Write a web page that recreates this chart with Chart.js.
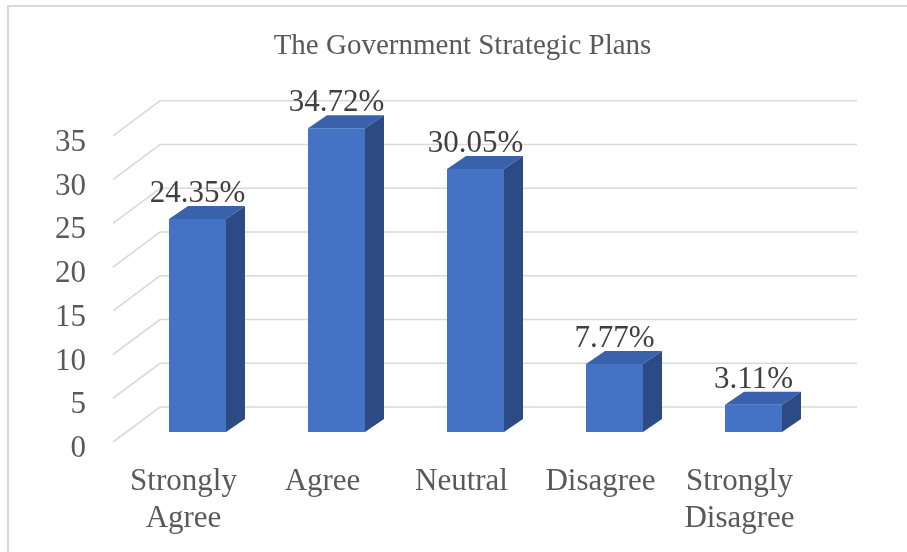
<!DOCTYPE html>
<html lang="en">
<head>
  <meta charset="UTF-8">
  <title>The Government Strategic Plans</title>
  <script src="https://cdn.jsdelivr.net/npm/chart.js"></script>
  <style>
    body { margin: 0; background: #fff; }
    canvas { display: block; }
  </style>
</head>
<body>
  <canvas id="chartPlans" width="907" height="552"></canvas>
<script>
// chart data
const categories = [['Strongly', 'Agree'], 'Agree', 'Neutral', 'Disagree', ['Strongly', 'Disagree']];
const percentages = [24.35, 34.72, 30.05, 7.77, 3.11];
const yTicks = [0, 5, 10, 15, 20, 25, 30, 35];

const textColor = '#595959';
const fontName = "'Liberation Serif', 'Times New Roman', serif";

// fake 3D: back wall grid, bar top and side faces, value labels
const bar3d = {
  id: 'bar3d',
  beforeDraw(chart) {
    const ctx = chart.ctx;
    ctx.save();
    ctx.fillStyle = '#d9d9d9';
    ctx.fillRect(7, 5, chart.width, 2);
    ctx.fillRect(7, 5, 2, chart.height);
    ctx.restore();
  },
  beforeDatasetsDraw(chart) {
    const ctx = chart.ctx;
    const area = chart.chartArea;
    const y = chart.scales.y;
    ctx.save();
    ctx.strokeStyle = '#d9d9d9';
    ctx.lineWidth = 1.6;
    yTicks.forEach(v => {
      const py = y.getPixelForValue(v);
      ctx.beginPath();
      ctx.moveTo(area.left - 15, py + 10);
      ctx.lineTo(area.left + 32, py - 25);
      ctx.lineTo(area.right + 34, py - 25);
      ctx.stroke();
    });
    ctx.restore();
  },
  afterDatasetsDraw(chart) {
    const ctx = chart.ctx;
    const dx = 19, dy = 13;
    const meta = chart.getDatasetMeta(0);
    ctx.save();
    meta.data.forEach((bar, i) => {
      const left = bar.x - bar.width / 2;
      const right = bar.x + bar.width / 2;
      // top face
      ctx.fillStyle = '#3a62ac';
      ctx.beginPath();
      ctx.moveTo(left, bar.y);
      ctx.lineTo(left + dx, bar.y - dy);
      ctx.lineTo(right + dx, bar.y - dy);
      ctx.lineTo(right, bar.y);
      ctx.closePath();
      ctx.fill();
      // side face
      ctx.fillStyle = '#2c4b85';
      ctx.beginPath();
      ctx.moveTo(right, bar.y);
      ctx.lineTo(right + dx, bar.y - dy);
      ctx.lineTo(right + dx, bar.base - dy);
      ctx.lineTo(right, bar.base);
      ctx.closePath();
      ctx.fill();
      // value label
      ctx.fillStyle = '#404040';
      ctx.font = '31px ' + fontName;
      ctx.textAlign = 'center';
      ctx.textBaseline = 'middle';
      ctx.fillText(percentages[i].toFixed(2) + '%', bar.x, bar.y - 25);
    });
    ctx.restore();
  }
};

const config = {
  type: 'bar',
  data: {
    labels: categories,
    datasets: [{
      label: 'The Government Strategic Plans',
      data: percentages,
      backgroundColor: '#4472c4',
      borderWidth: 0,
      categoryPercentage: 1,
      barPercentage: 0.41
    }]
  },
  options: {
    responsive: false,
    animation: false,
    layout: { padding: { left: 18, right: 0, top: 0, bottom: 0 } },
    plugins: {
      legend: { display: false },
      tooltip: { enabled: false },
      title: {
        display: true,
        text: 'The Government Strategic Plans',
        color: textColor,
        font: { family: fontName, size: 29, weight: 'normal' },
        padding: { top: 29, bottom: 62 }
      }
    },
    scales: {
      x: {
        grid: { display: false, drawTicks: false },
        border: { display: false },
        ticks: {
          color: textColor,
          font: { family: fontName, size: 31, lineHeight: 1.2 },
          padding: 31,
          labelOffset: -14,
          maxRotation: 0,
          autoSkip: false
        },
        afterFit: s => { s.height = 120; }
      },
      y: {
        min: 0,
        max: 35,
        grid: { display: false, drawTicks: false },
        border: { display: false },
        ticks: {
          stepSize: 5,
          color: textColor,
          font: { family: fontName, size: 31 },
          padding: 42,
          labelOffset: 17
        },
        afterFit: s => { s.width = 110; }
      },
      // empty right axis, only keeps room for the 3D wall
      yRight: {
        position: 'right',
        grid: { display: false, drawTicks: false },
        border: { display: false },
        ticks: { display: false },
        afterFit: s => { s.width = 84; }
      }
    }
  },
  plugins: [bar3d]
};

new Chart(document.getElementById('chartPlans'), config);
</script>
</body>
</html>
